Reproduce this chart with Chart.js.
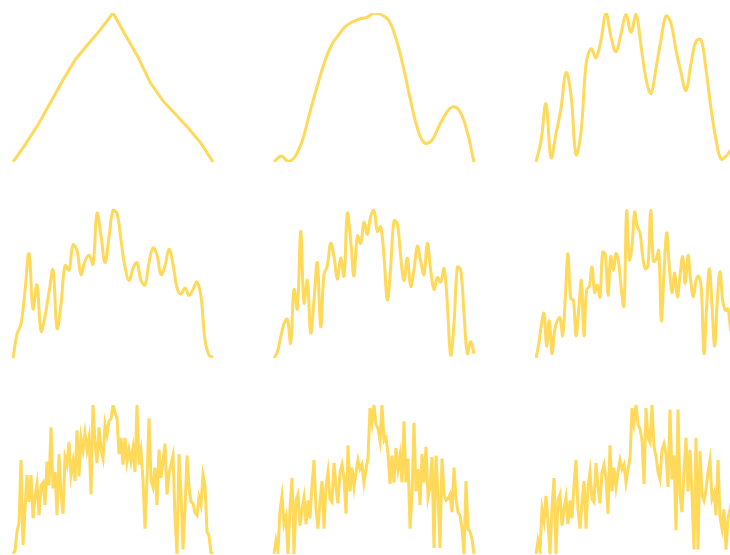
<!DOCTYPE html>
<html>
<head>
<meta charset="utf-8">
<script src="https://cdn.jsdelivr.net/npm/chart.js@4.4.1/dist/chart.umd.min.js"></script>
<style>
  html, body { margin: 0; padding: 0; background: #ffffff; }
  body { width: 730px; height: 555px; overflow: hidden; position: relative; }
  .cell { position: absolute; width: 210px; height: 159px; }
</style>
</head>
<body>
<script>
// ---- data (each series normalised 0..100) ----
const series1 = [0, 12, 25, 40, 55, 69, 79, 89, 100, 85, 70.5, 53, 41, 32, 23, 13, 0];

const series2 = [0, 4, 0.5, 4, 15, 33, 50, 66, 78, 85, 91, 94, 96, 97, 100, 99, 95.5, 84, 66, 44,
  24, 13, 14, 23, 32, 37, 34, 21, 0];

const series3 = [0, 14, 39, 3, 19, 36, 60, 45, 5, 20, 65, 76, 70, 82, 100, 84, 74, 86, 99, 87,
  99, 78, 56, 46, 63, 82, 98, 93, 75, 60, 48, 66, 81, 82, 62, 36, 15, 2, 4, 8, 10];

const series4 = [0, 16, 23, 45, 70, 33, 49, 18, 28, 44, 59, 20, 36, 62, 59, 76, 72, 56, 65, 69,
  63, 97, 82, 64, 81, 99, 97, 79, 61, 52, 60, 64, 52, 49, 64, 74, 69, 56, 62, 73,
  63, 47, 43, 47, 42, 46, 51, 41, 12, 2, 0.5];

const series5 = [0, 4, 14, 23, 26, 10, 46, 33, 85, 37, 52, 17, 39, 64, 21, 56, 62, 77, 68, 53,
  67, 55, 97, 79, 55, 82, 77, 91, 83, 95, 99, 85, 88, 68, 39, 61, 92, 90, 68, 52,
  67, 48, 59, 75, 65, 56, 77, 59, 46, 54, 51, 60, 36, 2, 23, 61, 59, 30, 3, 11, 3];

const series6 = [0, 9, 22, 30, 8, 25, 3, 19, 25, 27, 15, 41, 70, 40, 39, 15, 32, 52, 15, 46,
  48, 61, 44, 49, 41, 71, 69, 42, 68, 59, 70, 64, 46, 35, 99, 66, 75, 98, 88, 84,
  68, 60, 62, 99, 65, 66, 72, 25, 57, 84, 61, 44, 57, 41, 55, 68, 50, 69, 52, 41,
  52, 55, 46, 3, 35, 60, 35, 8, 39, 58, 39, 32, 33, 19, 15, 12];

const series7 = [0, 2, 15, 21, 63, 6, 30, 53, 35, 53, 24, 38, 47, 26, 46, 48, 33, 62, 46, 85,
  44, 55, 26, 67, 40, 27, 65, 60, 75, 53, 62, 49, 83, 52, 78, 70, 81, 70, 78, 40,
  100, 75, 61, 85, 70, 64, 87, 80, 89, 91, 100, 95, 91, 67, 78, 60, 78, 62, 70, 62,
  71, 55, 100, 60, 69, 50, 17, 50, 91, 50, 45, 58, 33, 70, 51, 62, 74, 40, 54, 60,
  66, 25, 0, 67, 40, 3, 30, 66, 45, 35, 34, 28, 26, 38, 33, 53, 46, 15, 12, 1, 0];

const series8 = [0, 9, 2, 29, 39, 20, 25, 0, 31, 51, 0, 36, 40, 19, 30, 38, 20, 36, 24, 46,
  63, 30, 17, 35, 49, 17, 45, 55, 37, 35, 61, 45, 34, 55, 60, 51, 27, 73, 42, 58,
  45, 55, 63, 57, 60, 48, 57, 64, 98, 88, 100, 87, 84, 76, 100, 76, 78, 67, 47, 66,
  48, 71, 57, 66, 48, 89, 48, 64, 17, 40, 88, 42, 57, 33, 67, 48, 72, 38, 45, 65,
  4, 66, 40, 4, 64, 40, 36, 37, 40, 28, 58, 37, 28, 26, 17, 0, 49, 17, 15, 10, 0];

const series9 = [0, 9, 2, 30, 22, 39, 22, 0, 31, 51, 0, 36, 40, 19, 30, 38, 20, 36, 24, 46,
  63, 30, 17, 35, 49, 17, 45, 55, 37, 35, 61, 45, 34, 55, 60, 51, 27, 73, 42, 58,
  45, 55, 63, 57, 60, 48, 57, 64, 98, 88, 100, 87, 84, 76, 47, 98, 78, 75, 100, 72,
  66, 55, 50, 70, 74, 67, 45, 97, 50, 66, 16, 97, 40, 28, 55, 78, 42, 70, 40, 3,
  78, 3, 69, 40, 36, 43, 55, 63, 37, 41, 26, 63, 25, 17, 30, 3, 24, 30, 36, 25, 20];

const allSeries = [series1, series2, series3, series4, series5, series6, series7, series8, series9];
const tensions  = [0, 0.4, 0.4, 0.4, 0.4, 0.4, 0, 0, 0];

// ---- layout ----
const PAD = 5;
const COL_X = 12.5, COL_STEP = 261.5;
const ROW_Y = 13, ROW_STEP = 196;
const LINE_COLOR = 'rgb(255, 217, 90)';

allSeries.forEach((values, i) => {
  const r = Math.floor(i / 3), c = i % 3;
  const div = document.createElement('div');
  div.className = 'cell';
  div.style.left = (COL_X + c * COL_STEP - PAD) + 'px';
  div.style.top = (ROW_Y + r * ROW_STEP - PAD) + 'px';
  const cv = document.createElement('canvas');
  div.appendChild(cv);
  document.body.appendChild(div);

  new Chart(cv, {
    type: 'line',
    data: {
      labels: values.map((_, k) => k),
      datasets: [{
        data: values,
        borderColor: LINE_COLOR,
        backgroundColor: LINE_COLOR,
        borderWidth: 3,
        pointRadius: 0,
        pointHoverRadius: 0,
        tension: tensions[i],
        fill: false
      }]
    },
    options: {
      responsive: true,
      maintainAspectRatio: false,
      animation: false,
      events: [],
      layout: { padding: PAD },
      plugins: { legend: { display: false }, tooltip: { enabled: false } },
      scales: {
        x: { type: 'category', display: false, offset: false },
        y: { display: false, min: 0, max: 100 }
      }
    }
  });
});
</script>
</body>
</html>
